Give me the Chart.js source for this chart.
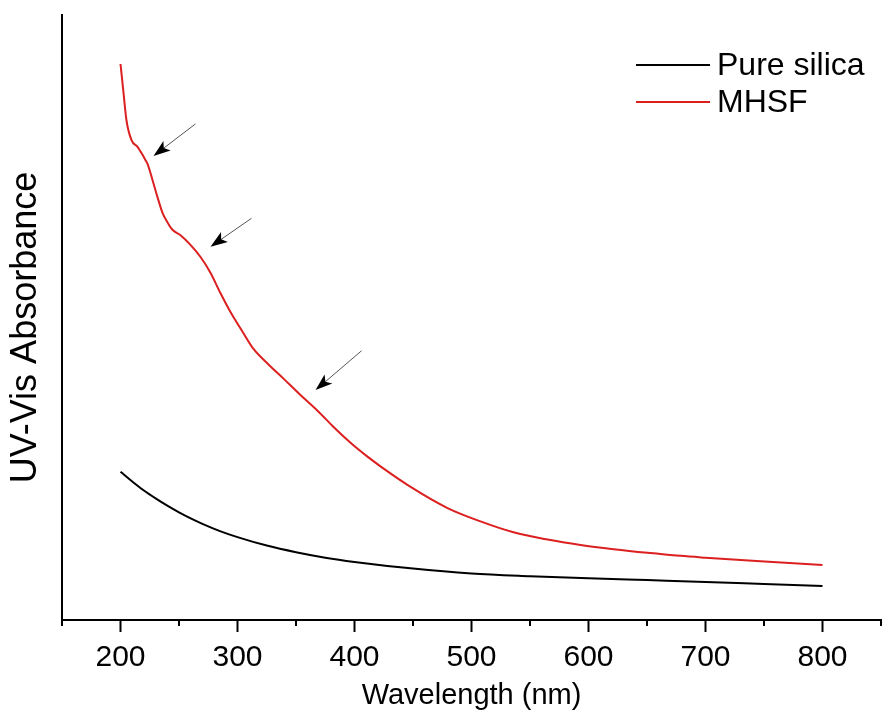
<!DOCTYPE html>
<html><head><meta charset="utf-8">
<script src="https://cdn.jsdelivr.net/npm/chart.js@4.4.0/dist/chart.umd.min.js"></script>
<style>html,body{margin:0;padding:0;background:#fff;overflow:hidden;}</style>
</head><body>
<canvas id="c" width="883" height="715" style="display:block;width:883px;height:715px"></canvas>
<script>
// ---- data ----
const seriesNames = ['Pure silica', 'MHSF'];
const silicaWavelength = [200,210,220,230,240,250,260,270,285,300,325,350,375,400,450,500,550,600,650,700,750,800];
const silicaAbs = [0.245,0.229,0.214,0.201,0.189,0.178,0.168,0.159,0.147,0.137,0.123,0.112,0.103,0.096,0.085,0.077,0.0725,0.069,0.066,0.063,0.0595,0.056];
const mhsfWavelength = [200,202.6,205.1,209.4,214.5,218.8,221.4,223.1,227.4,231.6,235.9,240.2,244.4,251.3,259.8,268.4,276.9,285.5,294.0,305.1,313.7,325.6,339.3,353.8,368.4,382.1,396.6,411.1,422.2,450.4,479.5,507.7,535.9,565.0,593.2,621.4,650.4,678.6,700.0,747.0,800.0];
const mhsfAbs = [0.919,0.871,0.826,0.793,0.782,0.769,0.760,0.754,0.727,0.699,0.673,0.657,0.645,0.636,0.620,0.600,0.574,0.540,0.509,0.474,0.448,0.424,0.399,0.372,0.346,0.319,0.293,0.270,0.254,0.217,0.185,0.163,0.145,0.133,0.124,0.117,0.111,0.106,0.103,0.097,0.091];
const xMajorTicks = [200,300,400,500,600,700,800];
const xMinorTicks = [150,250,350,450,550,650,750,850];
const xRange = [150, 850];
const yRange = [0, 1];
// arrows: [wavelength, absorbance] of tail and tip
const arrowTails = [[264.1,0.820],[312.0,0.664],[406.0,0.445]];
const arrowTips  = [[228.2,0.767],[276.9,0.617],[366.7,0.380]];

const FONT = "Arial, 'Liberation Sans', sans-serif";
const RED = '#dc1f1f';

const decor = {
  id: 'decor',
  afterDraw(chart) {
    const {ctx, chartArea} = chart;
    const x = chart.scales.x, y = chart.scales.y;
    ctx.save();
    // minor ticks
    ctx.strokeStyle = '#000'; ctx.lineWidth = 2;
    xMinorTicks.forEach(v => {
      const px = Math.round(x.getPixelForValue(v));
      ctx.beginPath(); ctx.moveTo(px, chartArea.bottom); ctx.lineTo(px, chartArea.bottom + 6); ctx.stroke();
    });
    // arrows
    arrowTails.forEach((t, i) => {
      const tp = arrowTips[i];
      const x1 = x.getPixelForValue(t[0]), y1 = y.getPixelForValue(t[1]);
      const x2 = x.getPixelForValue(tp[0]), y2 = y.getPixelForValue(tp[1]);
      const dx = x2 - x1, dy = y2 - y1, L = Math.hypot(dx, dy);
      const ux = dx / L, uy = dy / L;
      const hl = 17, hw = 6;
      const bx = x2 - ux * hl, by = y2 - uy * hl;
      ctx.strokeStyle = '#555'; ctx.lineWidth = 1;
      ctx.beginPath(); ctx.moveTo(x1, y1); ctx.lineTo(bx + ux * 4, by + uy * 4); ctx.stroke();
      ctx.fillStyle = '#000';
      ctx.beginPath();
      ctx.moveTo(x2, y2);
      ctx.lineTo(bx - uy * hw, by + ux * hw);
      ctx.lineTo(bx + ux * 4, by + uy * 4);
      ctx.lineTo(bx + uy * hw, by - ux * hw);
      ctx.closePath(); ctx.fill();
    });
    // legend
    const colors = ['#000', RED];
    const ys = [65, 102];
    ctx.font = '32px ' + FONT;
    ctx.textBaseline = 'middle';
    ctx.textAlign = 'left';
    seriesNames.forEach((n, i) => {
      ctx.strokeStyle = colors[i]; ctx.lineWidth = 2;
      ctx.beginPath(); ctx.moveTo(636, ys[i]); ctx.lineTo(710, ys[i]); ctx.stroke();
      ctx.fillStyle = '#000';
      ctx.fillText(n, 717, ys[i] + 1);
    });
    ctx.restore();
  }
};

const toPts = (xs, ys) => xs.map((v, i) => ({x: v, y: ys[i]}));

new Chart(document.getElementById('c'), {
  type: 'line',
  data: {
    datasets: [
      {label: seriesNames[0], data: toPts(silicaWavelength, silicaAbs), borderColor: '#000', borderWidth: 2, pointRadius: 0, cubicInterpolationMode: 'monotone', fill: false},
      {label: seriesNames[1], data: toPts(mhsfWavelength, mhsfAbs), borderColor: RED, borderWidth: 2, pointRadius: 0, cubicInterpolationMode: 'monotone', fill: false}
    ]
  },
  options: {
    responsive: false,
    animation: false,
    devicePixelRatio: 1,
    layout: {padding: {top: 15, right: 2, left: 0, bottom: 0}},
    plugins: {legend: {display: false}, tooltip: {enabled: false}},
    scales: {
      x: {
        type: 'linear', min: xRange[0], max: xRange[1],
        afterFit: s => { s.height = 95; },
        afterBuildTicks: s => { s.ticks = xMajorTicks.map(v => ({value: v})); },
        ticks: {autoSkip: false, maxRotation: 0, padding: 8, color: '#000', font: {family: FONT, size: 30}},
        grid: {display: true, drawOnChartArea: false, drawTicks: true, tickLength: 12, tickWidth: 2, tickColor: '#000'},
        border: {display: true, color: '#000', width: 2},
        title: {display: true, text: 'Wavelength (nm)', color: '#000', font: {family: FONT, size: 29}, padding: {top: 0, bottom: 2}}
      },
      y: {
        type: 'linear', min: yRange[0], max: yRange[1],
        afterFit: s => { s.width = 62; },
        ticks: {display: false},
        grid: {display: false, drawTicks: false},
        border: {display: true, color: '#000', width: 2},
        title: {display: true, text: 'UV-Vis Absorbance  ', color: '#000', font: {family: FONT, size: 36}, padding: {top: 4, bottom: 0}}
      }
    }
  },
  plugins: [decor]
});
</script>
</body></html>
